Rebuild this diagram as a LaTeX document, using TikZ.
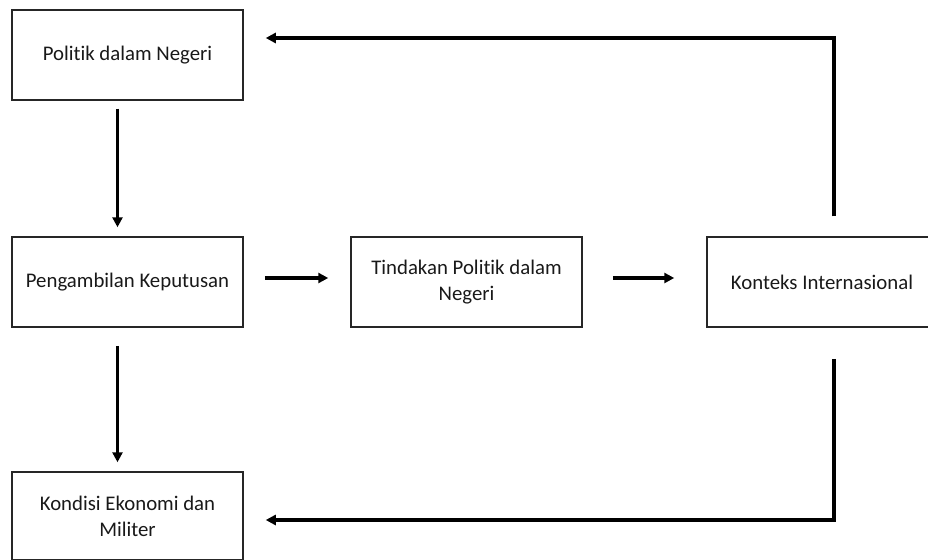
\documentclass[tikz,border=0pt]{standalone}
\usepackage{fontspec}
\setmainfont{Carlito}[Ligatures=NoCommon]
\usetikzlibrary{arrows.meta}
\begin{document}
\begin{tikzpicture}[x=1pt,y=-1pt,
  box/.style={draw=black!85,line width=1.5pt,minimum width=231pt,minimum height=90pt,align=center,inner sep=0pt,font=\fontsize{20.8}{26}\selectfont,text=black!90},
  conn/.style={line width=3.2pt,-{Triangle[length=10pt,width=10pt]}}]
\useasboundingbox (0,0) rectangle (928,559);
\clip (0,0) rectangle (928,559);
\node[box] (b1) at (127.5,55) {Politik dalam Negeri};
\node[box] (b2) at (127.5,282) {Pengambilan Keputusan};
\node[box] (b3) at (466.5,282) {Tindakan Politik dalam\\Negeri};
\node[box,minimum width=230pt] (b4) at (822,282) {Konteks Internasional};
\node[box,minimum height=88pt] (b5) at (127.5,516) {Kondisi Ekonomi dan\\Militer};
\coordinate (t) at (834,38);
\coordinate (u) at (834,520);
\draw[conn,shorten <=8pt,shorten >=9pt] ([xshift=-10pt]b1.south) -- ([xshift=-10pt]b2.north);
\draw[conn,shorten <=18pt,shorten >=9pt] ([xshift=-10pt]b2.south) -- ([xshift=-10pt]b5.north);
\draw[conn,shorten <=21pt,shorten >=22pt] ([yshift=4pt]b2.east) -- ([yshift=4pt]b3.west);
\draw[conn,shorten <=30pt,shorten >=32pt] ([yshift=4pt]b3.east) -- ([yshift=4pt]b4.west);
\draw[conn,shorten <=20pt,shorten >=22pt,line join=miter] ([xshift=12pt]b4.north) -- (t) -- (b1.east |- t);
\draw[conn,shorten <=31pt,shorten >=22pt,line join=miter] ([xshift=12pt]b4.south) -- (u) -- (b5.east |- u);
\end{tikzpicture}
\end{document}
